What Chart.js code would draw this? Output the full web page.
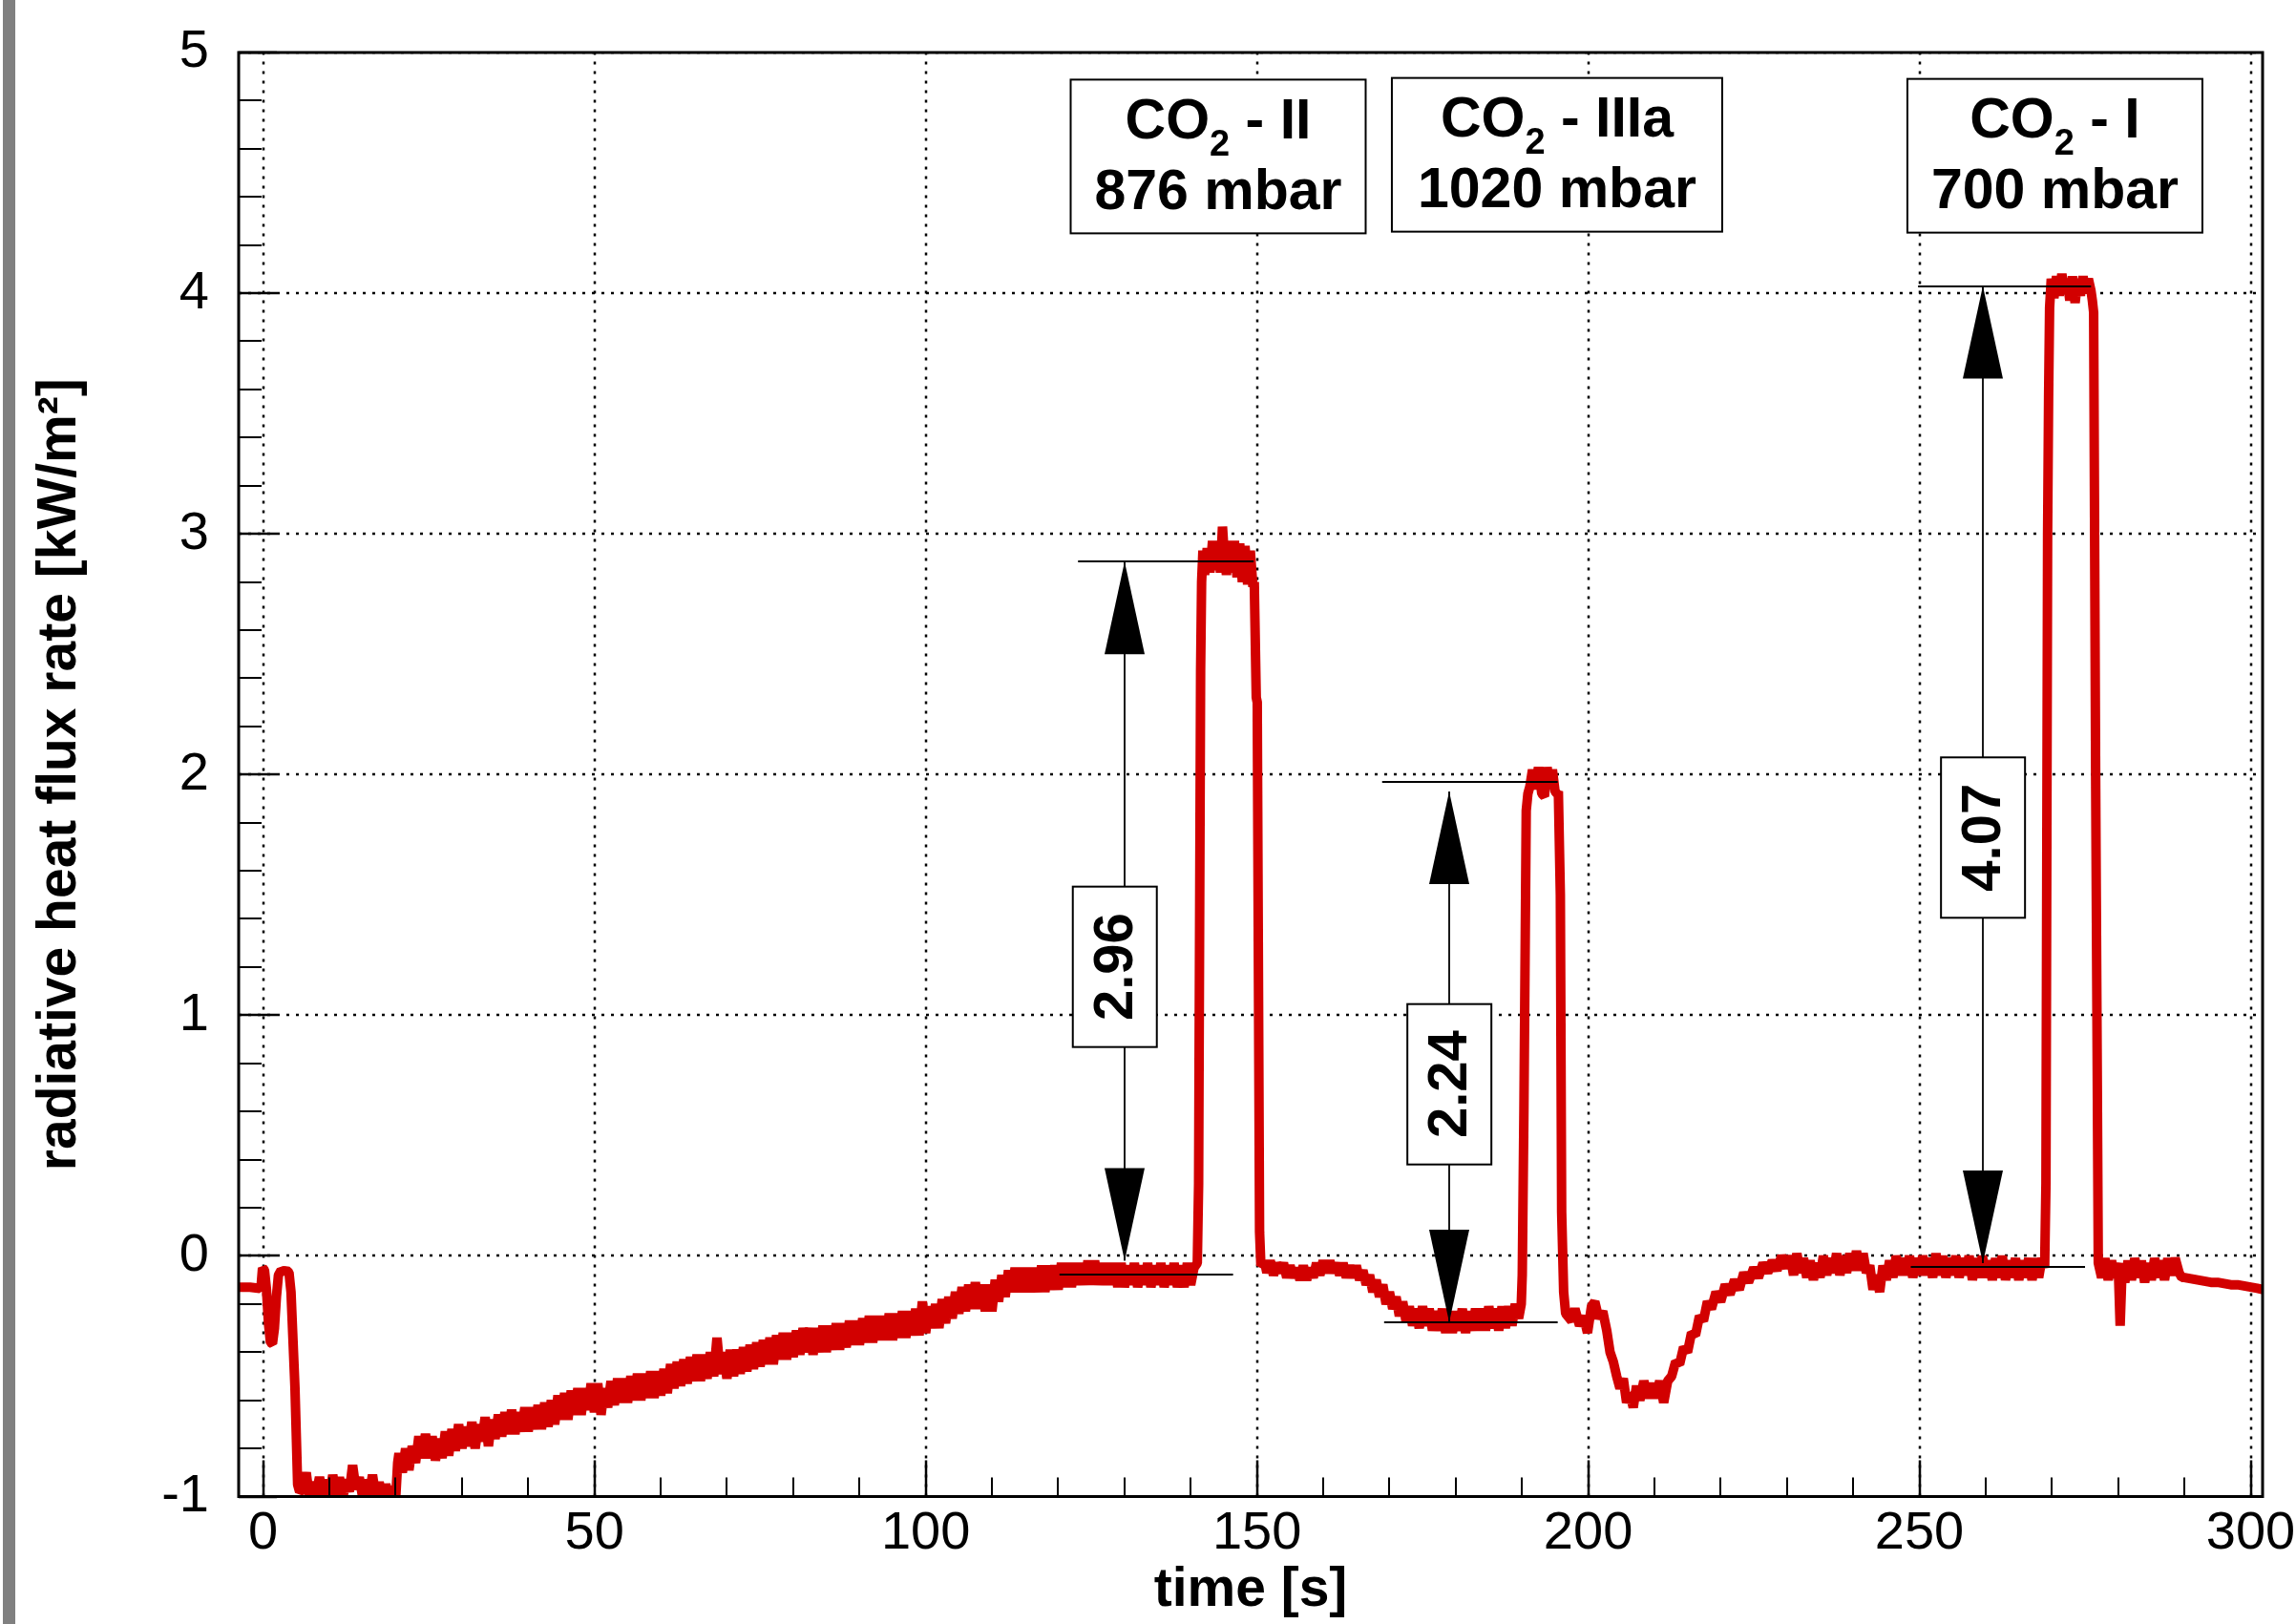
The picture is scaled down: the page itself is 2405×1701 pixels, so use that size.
<!DOCTYPE html>
<html>
<head>
<meta charset="utf-8">
<script src="https://cdn.jsdelivr.net/npm/chart.js@4.4.1/dist/chart.umd.min.js"></script>
<style>
html,body{margin:0;padding:0;background:#fff;width:2405px;height:1701px;overflow:hidden}
#wrap{position:absolute;left:0;top:0;width:2405px;height:1701px}
#bar{position:absolute;left:3px;top:0;width:13px;height:1701px;background:#808080}
</style>
</head>
<body>
<div id="wrap"><canvas id="c" width="2405" height="1701"></canvas></div>
<div id="bar"></div>
<script>
// ---------------- data ----------------
const time = [
  -3.7,-2,-0.5,-0.3,-0.1,0.2,0.5,0.8,1.1,1.4,
  1.7,2.0,2.3,2.7,3.1,3.5,3.9,4.2,4.5,4.8,
  5.0,5.2,5.5,6,6.5,7,7.5,8,8.5,9,
  9.5,10,10.5,11,11.5,12,12.5,13,13.5,14,
  14.5,15,15.5,16,16.5,17,17.5,18,18.5,19,
  19.5,20,20.3,20.5,21,21.5,22,22.5,23,23.5,
  24,24.5,25,25.5,26,26.5,27,27.5,28,28.5,
  29,29.5,30,30.5,31,31.5,32,32.5,33,33.5,
  34,34.5,35,35.5,36,36.5,37,37.5,38,38.5,
  39,39.5,40,40.5,41,41.5,42,42.5,43,43.5,
  44,44.5,45,45.5,46,46.5,47,47.5,48,48.5,
  49,49.5,50,50.5,51,51.5,52,52.5,53,53.5,
  54,54.5,55,55.5,56,56.5,57,57.5,58,58.5,
  59,59.5,60,60.5,61,61.5,62,62.5,63,63.5,
  64,64.5,65,65.5,66,66.5,67,67.5,68,68.5,
  69,69.5,70,70.5,71,71.5,72,72.5,73,73.5,
  74,74.5,75,75.5,76,76.5,77,77.5,78,78.5,
  79,79.5,80,80.5,81,81.5,82,82.5,83,83.5,
  84,84.5,85,85.5,86,86.5,87,87.5,88,88.5,
  89,89.5,90,90.5,91,91.5,92,92.5,93,93.5,
  94,94.5,95,95.5,96,96.5,97,97.5,98,98.5,
  99,99.5,100,100.5,101,101.5,102,102.5,103,103.5,
  104,104.5,105,105.5,106,106.5,107,107.5,108,108.5,
  109,109.5,110,110.5,111,111.5,112,112.5,113,113.5,
  114,114.5,115,115.5,116,116.5,117,117.5,118,118.5,
  119,119.5,120,120.5,121,121.5,122,122.5,123,123.5,
  124,124.5,125,125.5,126,126.5,127,127.5,128,128.5,
  129,129.5,130,130.5,131,131.5,132,132.5,133,133.5,
  134,134.5,135,135.5,136,136.5,137,137.5,138,138.5,
  139,139.5,140,140.5,141.0,141.2,141.5,141.65,141.85,142.1,
  142.5,142.9,143.3,143.7,144.1,144.5,144.8,145.1,145.4,145.8,
  146.2,146.6,147.0,147.4,147.8,148.2,148.6,149.0,149.4,149.6,
  149.9,150.05,150.4,150.6,151.2,151.5,152,152.5,153,153.5,
  154,154.5,155,155.5,156,156.5,157,157.5,158,158.5,
  159,159.5,160,160.5,161,161.5,162,162.5,163,163.5,
  164,164.5,165,165.5,166,166.5,167,167.5,168,168.5,
  169,169.5,170,170.5,171,171.5,172,172.5,173,173.5,
  174,174.5,175,175.5,176,176.5,177,177.5,178,178.5,
  179,179.5,180,180.5,181,181.5,182,182.5,183,183.5,
  184,184.5,185,185.5,186,186.5,187,187.5,188,188.5,
  189,189.5,189.9,190.05,190.3,190.65,190.9,191.2,191.6,
  192,192.5,193,193.4,193.8,194.2,194.6,195,195.3,195.5,
  195.8,196.0,196.3,196.6,197.5,198,198.7,199.3,199.9,200.5,
  201,201.6,202.2,202.8,203.3,203.8,204.3,204.8,205.3,205.8,
  206.3,206.8,207.3,207.8,208.4,209,209.6,210.2,210.8,211.4,
  212,212.6,213.2,213.8,214.4,215,215.6,216.2,216.8,217.4,
  218,218.6,219.3,220,220.7,221.4,222.1,222.8,223.5,224.2,
  225,225.7,226.4,227.1,227.8,228.5,229.2,230,230.5,231,
  231.5,232,232.5,233,233.5,234,234.5,235,235.5,236,
  236.5,237,237.5,238,238.5,239,239.5,240,240.5,241,
  241.5,242,242.5,243,243.5,244,244.5,245,245.5,246,
  246.5,247,247.5,248,248.5,249,249.5,250,250.5,251,
  251.5,252,252.5,253,253.5,254,254.5,255,255.5,256,
  256.5,257,257.5,258,258.5,259,259.5,260,260.5,261,
  261.5,262,262.5,263,263.5,264,264.5,265,265.5,266,
  266.5,267,267.5,268,268.5,268.9,269.1,269.35,269.5,269.65,
  269.9,270.3,270.7,271.1,271.5,271.9,272.3,272.7,273.1,273.5,
  273.9,274.3,274.7,275.1,275.5,275.9,276.1,276.3,276.6,277.0,
  277.5,278,278.5,279,279.5,280,280.3,280.6,281,281.5,
  282,282.5,283,283.5,284,284.5,285,285.5,286,286.5,
  287,287.5,288,288.6,289.2,289.6,290,291,292,293,
  294,295,296,297,298,299,300,301,301.8
];
const flux = [
  -0.13,-0.13,-0.135,-0.12,-0.05,-0.06,-0.14,-0.28,-0.36,-0.365,
  -0.3,-0.17,-0.08,-0.06,-0.065,-0.06,-0.07,-0.15,-0.35,-0.55,
  -0.75,-0.95,-0.98,-0.97,-0.90,-1.01,-0.94,-0.99,-0.92,-0.99,
  -0.93,-1.01,-0.91,-0.99,-0.92,-1.01,-0.93,-0.98,-0.87,-0.97,
  -0.92,-1.0,-0.93,-0.99,-0.91,-1.0,-0.94,-1.01,-0.95,-1.0,
  -0.96,-1.01,-0.86,-0.82,-0.90,-0.80,-0.89,-0.79,-0.86,-0.75,
  -0.84,-0.74,-0.84,-0.75,-0.85,-0.76,-0.84,-0.73,-0.83,-0.72,
  -0.81,-0.70,-0.80,-0.71,-0.79,-0.69,-0.80,-0.70,-0.77,-0.67,
  -0.79,-0.68,-0.76,-0.66,-0.75,-0.65,-0.74,-0.64,-0.74,-0.65,
  -0.73,-0.63,-0.73,-0.63,-0.72,-0.62,-0.72,-0.61,-0.71,-0.60,
  -0.70,-0.58,-0.68,-0.57,-0.68,-0.56,-0.66,-0.55,-0.66,-0.55,
  -0.64,-0.53,-0.65,-0.53,-0.66,-0.55,-0.63,-0.52,-0.62,-0.51,
  -0.61,-0.51,-0.61,-0.50,-0.60,-0.49,-0.60,-0.49,-0.59,-0.48,
  -0.59,-0.48,-0.58,-0.47,-0.57,-0.45,-0.55,-0.44,-0.54,-0.43,
  -0.53,-0.42,-0.52,-0.41,-0.52,-0.41,-0.51,-0.40,-0.50,-0.34,
  -0.49,-0.40,-0.51,-0.39,-0.50,-0.39,-0.49,-0.38,-0.48,-0.37,
  -0.47,-0.36,-0.46,-0.35,-0.45,-0.34,-0.45,-0.33,-0.43,-0.32,
  -0.43,-0.32,-0.42,-0.31,-0.41,-0.30,-0.40,-0.30,-0.41,-0.30,
  -0.40,-0.29,-0.40,-0.29,-0.39,-0.28,-0.39,-0.28,-0.38,-0.27,
  -0.37,-0.27,-0.37,-0.26,-0.36,-0.25,-0.36,-0.25,-0.35,-0.25,
  -0.35,-0.24,-0.35,-0.24,-0.34,-0.23,-0.34,-0.23,-0.33,-0.22,
  -0.33,-0.19,-0.32,-0.21,-0.30,-0.20,-0.30,-0.18,-0.28,-0.17,
  -0.26,-0.15,-0.24,-0.13,-0.23,-0.12,-0.22,-0.11,-0.22,-0.12,
  -0.23,-0.12,-0.23,-0.10,-0.19,-0.08,-0.17,-0.06,-0.15,-0.05,
  -0.15,-0.05,-0.15,-0.05,-0.15,-0.05,-0.15,-0.04,-0.15,-0.04,
  -0.14,-0.04,-0.14,-0.03,-0.13,-0.03,-0.13,-0.03,-0.12,-0.03,
  -0.12,-0.02,-0.12,-0.02,-0.12,-0.03,-0.12,-0.03,-0.12,-0.03,
  -0.13,-0.03,-0.13,-0.04,-0.12,-0.03,-0.13,-0.04,-0.12,-0.03,
  -0.13,-0.04,-0.12,-0.03,-0.13,-0.04,-0.12,-0.03,-0.13,-0.04,
  -0.13,-0.03,-0.12,-0.05,-0.03,0.3,2.43,2.8,2.93,2.83,
  2.94,2.84,2.97,2.85,2.96,2.84,3.03,2.9,2.83,2.97,
  2.84,2.97,2.82,2.96,2.80,2.95,2.79,2.93,2.78,2.8,
  2.32,2.3,0.1,-0.04,-0.03,-0.07,-0.02,-0.08,-0.03,-0.07,
  -0.03,-0.09,-0.04,-0.09,-0.05,-0.1,-0.04,-0.1,-0.05,-0.09,
  -0.03,-0.08,-0.02,-0.07,-0.02,-0.07,-0.03,-0.08,-0.03,-0.09,
  -0.04,-0.09,-0.04,-0.1,-0.06,-0.12,-0.08,-0.15,-0.1,-0.17,
  -0.12,-0.2,-0.15,-0.22,-0.17,-0.25,-0.19,-0.27,-0.21,-0.29,
  -0.22,-0.3,-0.21,-0.29,-0.22,-0.31,-0.23,-0.31,-0.22,-0.32,
  -0.23,-0.32,-0.23,-0.31,-0.22,-0.32,-0.23,-0.31,-0.22,-0.31,
  -0.22,-0.31,-0.21,-0.3,-0.22,-0.31,-0.21,-0.3,-0.21,-0.29,
  -0.2,-0.26,-0.2,-0.08,0.6,1.85,1.92,1.95,2.02,
  1.94,2.03,1.92,1.91,2.03,1.95,2.02,1.93,1.92,1.93,
  1.5,0.18,-0.15,-0.24,-0.27,-0.22,-0.29,-0.25,-0.32,-0.21,
  -0.19,-0.26,-0.23,-0.31,-0.4,-0.44,-0.5,-0.55,-0.51,-0.61,
  -0.57,-0.63,-0.54,-0.6,-0.52,-0.59,-0.53,-0.59,-0.52,-0.61,
  -0.52,-0.5,-0.44,-0.45,-0.38,-0.4,-0.32,-0.33,-0.25,-0.27,
  -0.19,-0.22,-0.15,-0.19,-0.12,-0.16,-0.1,-0.14,-0.07,-0.11,
  -0.05,-0.09,-0.03,-0.07,-0.02,-0.06,0.0,-0.05,0.0,-0.08,
  0.01,-0.07,-0.01,-0.09,-0.02,-0.1,-0.03,-0.09,0.0,-0.08,
  -0.01,-0.07,0.01,-0.08,0.0,-0.07,0.01,-0.06,0.02,-0.06,
  0.01,-0.07,-0.04,-0.14,-0.08,-0.15,-0.04,-0.1,-0.02,-0.09,
  0.0,-0.08,-0.01,-0.08,0.0,-0.09,-0.01,-0.08,0.0,-0.08,
  -0.01,-0.09,0.01,-0.08,0.0,-0.09,-0.01,-0.08,0.0,-0.09,
  -0.01,-0.08,0.0,-0.1,-0.01,-0.09,0.0,-0.09,-0.02,-0.1,
  -0.01,-0.09,0.0,-0.1,-0.02,-0.09,-0.01,-0.1,-0.02,-0.09,
  -0.01,-0.1,-0.01,-0.09,-0.01,-0.05,0.3,3.0,3.57,3.94,
  4.06,3.98,4.07,3.99,4.08,4.0,4.06,3.97,4.07,3.96,
  4.06,3.99,4.07,4.0,4.06,4.01,3.97,3.92,2.0,-0.03,
  -0.09,-0.01,-0.1,-0.02,-0.09,-0.03,-0.29,-0.05,-0.11,-0.02,
  -0.1,-0.01,-0.09,-0.02,-0.11,-0.03,-0.1,-0.01,-0.09,-0.02,
  -0.1,-0.01,-0.08,-0.01,-0.07,-0.09,-0.09,-0.095,-0.1,-0.105,
  -0.11,-0.11,-0.115,-0.12,-0.12,-0.125,-0.13,-0.135,-0.14
];

// axes
const xLimits = [-3.7, 301.8];
const yLimits = [-1, 5];
const xTickStep = 50, xMinorStep = 10;
const yTickStep = 1, yMinorStep = 0.2;
const xTitle = 'time [s]';
const yTitle = 'radiative heat flux rate [kW/m²]';

// reference levels (start time, end time, level)
const levelStart = [123.0, 120.2, 168.9, 169.2, 249.8, 248.7];
const levelEnd   = [149.5, 146.4, 195.4, 195.4, 275.9, 275.0];
const levelValue = [2.885, -0.078, 1.97, -0.276, 4.03, -0.044];

// double arrows
const arrowTime   = [130.0, 179.05, 259.6];
const arrowTop    = [2.885, 1.93, 4.03];
const arrowBottom = [-0.02, -0.276, -0.03];

// difference labels
const deltaText  = ['2.96', '2.24', '4.07'];
const deltaTime  = [128.55, 179.05, 259.6];
const deltaLevel = [1.201, 0.713, 1.738];

// gas labels
const gasName     = ['II', 'IIIa', 'I'];
const gasPressure = ['876 mbar', '1020 mbar', '700 mbar'];
const gasTime     = [144.15, 195.3, 270.45];
const gasLevel    = [4.568, 4.575, 4.571];

// ---------------- styles ----------------
const FONT = '"Liberation Sans", Arial, Helvetica, sans-serif';
const style = {
  red: '#d20000',
  gasBoxW: [309, 346, 309], gasBoxH: 161,
  deltaBoxW: 88, deltaBoxH: 168,
  headH: 97, headW: 42
};

const deco = {
  id: 'deco',
  beforeDatasetsDraw(chart) {
    const {ctx, chartArea: a, scales: {x, y}} = chart;
    ctx.save();
    ctx.beginPath();
    ctx.rect(a.left, a.top, a.right - a.left, a.bottom - a.top);
    ctx.clip();
    ctx.strokeStyle = '#000';
    ctx.lineWidth = 2.5;
    ctx.setLineDash([3, 7]);
    x.ticks.forEach(t => {
      const p = Math.round(x.getPixelForValue(t.value));
      ctx.beginPath(); ctx.moveTo(p, a.bottom); ctx.lineTo(p, a.top); ctx.stroke();
    });
    y.ticks.forEach(t => {
      const p = Math.round(y.getPixelForValue(t.value));
      ctx.beginPath(); ctx.moveTo(a.left, p); ctx.lineTo(a.right, p); ctx.stroke();
    });
    ctx.restore();
  },
  afterDatasetsDraw(chart) {
    const {ctx, chartArea: a, scales: {x, y}} = chart;
    const px = v => x.getPixelForValue(v);
    const py = v => y.getPixelForValue(v);
    ctx.save();
    ctx.strokeStyle = '#000';
    ctx.fillStyle = '#000';

    // level lines
    ctx.lineWidth = 2;
    for (let i = 0; i < levelValue.length; i++) {
      const yy = Math.round(py(levelValue[i]));
      ctx.beginPath(); ctx.moveTo(px(levelStart[i]), yy); ctx.lineTo(px(levelEnd[i]), yy); ctx.stroke();
    }

    // arrows
    for (let i = 0; i < arrowTime.length; i++) {
      const ax = Math.round(px(arrowTime[i]));
      const yt = py(arrowTop[i]), yb = py(arrowBottom[i]);
      ctx.lineWidth = 1.8;
      ctx.beginPath(); ctx.moveTo(ax, yt); ctx.lineTo(ax, yb); ctx.stroke();
      const hw = style.headW / 2, hh = style.headH;
      ctx.beginPath(); ctx.moveTo(ax, yt); ctx.lineTo(ax - hw, yt + hh); ctx.lineTo(ax + hw, yt + hh); ctx.closePath(); ctx.fill();
      ctx.beginPath(); ctx.moveTo(ax, yb); ctx.lineTo(ax - hw, yb - hh); ctx.lineTo(ax + hw, yb - hh); ctx.closePath(); ctx.fill();
    }

    // difference boxes (rotated text)
    for (let i = 0; i < deltaText.length; i++) {
      const cx = px(deltaTime[i]), cy = py(deltaLevel[i]);
      const w = style.deltaBoxW, h = style.deltaBoxH;
      ctx.fillStyle = '#fff';
      ctx.fillRect(cx - w / 2, cy - h / 2, w, h);
      ctx.lineWidth = 2;
      ctx.strokeRect(cx - w / 2, cy - h / 2, w, h);
      ctx.save();
      ctx.translate(cx, cy);
      ctx.rotate(-Math.PI / 2);
      ctx.fillStyle = '#000';
      ctx.font = 'bold 58px ' + FONT;
      ctx.textAlign = 'center';
      ctx.textBaseline = 'middle';
      ctx.fillText(deltaText[i], 0, 2);
      ctx.restore();
    }

    // gas boxes
    for (let i = 0; i < gasName.length; i++) {
      const cx = px(gasTime[i]), cy = py(gasLevel[i]);
      const w = style.gasBoxW[i], h = style.gasBoxH;
      ctx.fillStyle = '#fff';
      ctx.fillRect(cx - w / 2, cy - h / 2, w, h);
      ctx.lineWidth = 2;
      ctx.strokeRect(cx - w / 2, cy - h / 2, w, h);
      ctx.fillStyle = '#000';
      ctx.textBaseline = 'alphabetic';
      ctx.textAlign = 'left';
      const big = 'bold 59px ' + FONT, small = 'bold 38px ' + FONT;
      const rest = ' - ' + gasName[i];
      ctx.font = big; const wCO = ctx.measureText('CO').width; const wR = ctx.measureText(rest).width;
      ctx.font = small; const w2 = ctx.measureText('2').width;
      let sx = cx - (wCO + w2 + wR) / 2;
      const by = cy - 19;
      ctx.font = big; ctx.fillText('CO', sx, by); sx += wCO;
      ctx.font = small; ctx.fillText('2', sx, by + 18); sx += w2;
      ctx.font = big; ctx.fillText(rest, sx, by);
      ctx.textAlign = 'center';
      ctx.fillText(gasPressure[i], cx, cy + 55);
    }

    // inward ticks
    ctx.strokeStyle = '#000';
    for (let k = Math.ceil(xLimits[0] / xMinorStep); k * xMinorStep <= xLimits[1]; k++) {
      const v = k * xMinorStep;
      const major = Math.abs(v % xTickStep) < 1e-9;
      const p = Math.round(px(v));
      ctx.lineWidth = major ? 2.5 : 2;
      ctx.beginPath(); ctx.moveTo(p, a.bottom); ctx.lineTo(p, a.bottom - (major ? 38 : 20)); ctx.stroke();
    }
    const per = Math.round(yTickStep / yMinorStep);
    for (let k = Math.ceil(yLimits[0] / yMinorStep - 1e-9); k * yMinorStep <= yLimits[1] + 1e-9; k++) {
      const v = k * yMinorStep;
      const major = k % per === 0;
      const p = Math.round(py(v));
      ctx.lineWidth = major ? 2.5 : 2;
      ctx.beginPath(); ctx.moveTo(a.left, p); ctx.lineTo(a.left + (major ? 40 : 24), p); ctx.stroke();
    }

    // frame
    ctx.lineWidth = 3;
    ctx.strokeRect(a.left, a.top, a.right - a.left, a.bottom - a.top);
    ctx.restore();
  }
};

const n = Math.min(time.length, flux.length);
const points = [];
for (let i = 0; i < n; i++) points.push({x: time[i], y: flux[i]});

new Chart(document.getElementById('c'), {
  type: 'line',
  data: {
    datasets: [{
      label: 'radiative heat flux rate',
      data: points,
      borderColor: style.red,
      backgroundColor: style.red,
      borderWidth: 10,
      borderJoinStyle: 'bevel',
      pointRadius: 0,
      tension: 0,
      fill: false,
      clip: 0
    }]
  },
  options: {
    responsive: false,
    animation: false,
    devicePixelRatio: 1,
    layout: {padding: {left: 0, right: 35, top: 55, bottom: 0}},
    plugins: {legend: {display: false}, tooltip: {enabled: false}},
    scales: {
      x: {
        type: 'linear',
        min: xLimits[0], max: xLimits[1],
        ticks: {stepSize: xTickStep, includeBounds: false, autoSkip: false, maxRotation: 0,
                font: {family: FONT, size: 56, lineHeight: 1.4}, color: '#000', padding: 0},
        grid: {display: false, drawTicks: false},
        border: {display: false},
        title: {display: true, text: xTitle, color: '#000',
                font: {family: FONT, size: 57, weight: 'bold'}, padding: {top: 0, bottom: 1}},
        afterFit: s => { s.height = 133.5; }
      },
      y: {
        type: 'linear',
        min: yLimits[0], max: yLimits[1],
        ticks: {stepSize: yTickStep, includeBounds: false,
                font: {family: FONT, size: 56, lineHeight: 0.6}, color: '#000', padding: 31},
        grid: {display: false, drawTicks: false},
        border: {display: false},
        title: {display: true, text: yTitle, color: '#000',
                font: {family: FONT, size: 57, weight: 'bold'}, padding: {top: 29, bottom: 0}},
        afterFit: s => { s.width = 250; }
      }
    }
  },
  plugins: [deco]
});
</script>
</body>
</html>
